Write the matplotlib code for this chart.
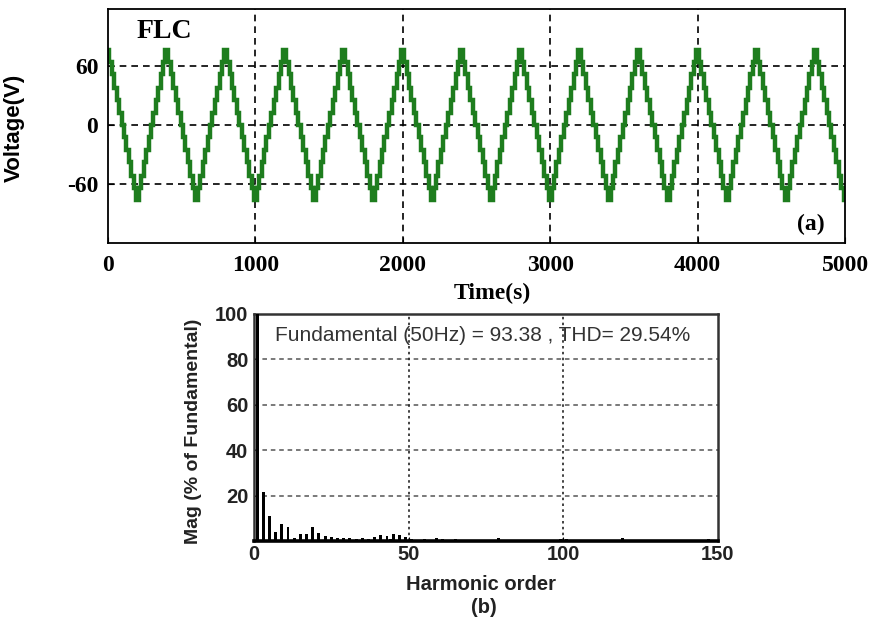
import numpy as np
import matplotlib
matplotlib.use("Agg")
import matplotlib.pyplot as plt

# ---------------- data ----------------
# (a) staircase output voltage of the FLC inverter: one period (400 units) of levels
period = 400
cycles = 13
step_start = [-10, 8, 25, 42, 58, 75, 92, 108, 125, 142, 158, 175, 190,
              210, 225, 242, 258, 275, 292, 308, 325, 342, 358, 375]
step_level = [76, 64, 52, 38, 25, 12, 0, -12, -25, -38, -52, -64, -76,
              -64, -52, -38, -25, -12, 0, 12, 25, 38, 52, 64]
top_xticks = [0, 1000, 2000, 3000, 4000, 5000]
top_yticks = [-60, 0, 60]

# (b) FFT spectrum, magnitude in % of fundamental
harm_order = [0, 1, 2, 3, 4, 5, 6, 7, 8, 9, 10, 11, 12, 13, 14, 15, 16, 17, 18, 19,
              20, 21, 22, 23, 24, 25, 27, 29, 31, 33, 35, 37, 39, 41, 42, 43, 44, 45,
              46, 47, 49, 51, 53, 55, 57, 59, 61, 63, 65, 67, 69, 71, 73, 75, 77, 79,
              81, 83, 85, 87, 89, 91, 93, 95, 97, 99, 101, 103, 105, 107, 109, 111,
              113, 115, 117, 119, 121, 123, 125, 127, 129, 131, 133, 135, 137, 139,
              141, 143, 145, 147, 149]
harm_mag = [0.4, 100, 0.3, 21.5, 0.3, 11.0, 0.3, 4.0, 0.3, 7.5, 0.3, 6.2, 0.3, 1.2, 0.3,
            3.0, 0.3, 3.2, 0.3, 6.0, 0.3, 3.7, 0.3, 2.0, 0.3, 1.8, 1.5, 1.3, 1.2, 0.8,
            1.4, 0.9, 1.8, 2.5, 0.6, 2.2, 0.8, 3.2, 0.6, 2.5, 1.8, 1.0, 0.6, 0.8, 0.6,
            1.5, 0.8, 0.5, 0.7, 0.5, 0.6, 0.5, 0.6, 0.5, 0.6, 1.5, 0.5, 0.4, 0.5, 0.4,
            0.5, 0.4, 0.5, 0.4, 0.6, 1.0, 0.8, 0.4, 0.5, 0.4, 0.5, 0.4, 0.5, 0.4, 0.6,
            1.2, 0.6, 0.4, 0.5, 0.4, 0.5, 0.4, 0.5, 0.4, 0.5, 0.4, 0.5, 0.4, 0.6, 0.9,
            0.6]
bot_xticks = [0, 50, 100, 150]
bot_yticks = [20, 40, 60, 80, 100]
spec_text = "Fundamental (50Hz) = 93.38 , THD= 29.54%"

# ---------------- figure ----------------
fig = plt.figure(figsize=(8.71, 6.23), dpi=100)
serif = "Liberation Serif"
sans = "Liberation Sans"

# ---- (a) ----
ax1 = fig.add_axes([0.1240, 0.6100, 0.8462, 0.3756])
t = (np.arange(cycles)[:, None] * period + np.array(step_start)[None, :]).ravel()
v = np.tile(step_level, cycles)
t = np.append(t, t[-1] + 20)
v = np.append(v, v[-1])
ax1.step(t, v, where="post", color="#1e7d1e", lw=3.2, solid_joinstyle="miter")
ax1.set_xlim(0, 5000)
ax1.set_ylim(-120, 118)
ax1.set_xticks(top_xticks)
ax1.set_yticks(top_yticks)
ax1.set_xticklabels([str(x) for x in top_xticks], fontfamily=serif,
                    fontweight="bold", fontsize=17)
ax1.set_yticklabels([str(y) for y in top_yticks], fontfamily=serif,
                    fontweight="bold", fontsize=17)
ax1.tick_params(axis="x", direction="in", length=4, pad=9)
ax1.tick_params(axis="y", direction="in", length=4, pad=7)
for xv in top_xticks[1:-1]:
    ax1.axvline(xv, color="black", lw=1.2, ls=(0, (4, 3)), zorder=1)
for yv in top_yticks:
    ax1.axhline(yv, color="black", lw=1.2, ls=(0, (4, 3)), zorder=1)
for s in ax1.spines.values():
    s.set_linewidth(1.3)
ax1.set_xlabel("Time(s)", fontfamily=serif, fontweight="bold", fontsize=17)
ax1.xaxis.set_label_coords(0.522, -0.17)
ax1.set_ylabel("Voltage(V)", fontfamily=sans, fontweight="bold", fontsize=16)
ax1.yaxis.set_label_coords(-0.113, 0.49)
ax1.text(0.039, 0.905, "FLC", transform=ax1.transAxes, fontfamily=serif,
         fontweight="bold", fontsize=20, va="center", ha="left")
ax1.text(0.953, 0.077, "(a)", transform=ax1.transAxes, fontfamily=serif,
         fontweight="bold", fontsize=17, va="center", ha="center")

# ---- (b) ----
ax2 = fig.add_axes([0.2916, 0.1316, 0.5327, 0.3644])
ax2.bar(harm_order, harm_mag, width=0.95, color="black", zorder=3)
ax2.set_xlim(0, 150)
ax2.set_ylim(0, 100)
ax2.set_xticks(bot_xticks)
ax2.set_yticks(bot_yticks)
ax2.set_xticklabels([str(x) for x in bot_xticks], fontfamily=sans,
                    fontweight="bold", fontsize=14.5, color="#222222")
ax2.set_yticklabels([str(y) for y in bot_yticks], fontfamily=sans,
                    fontweight="bold", fontsize=14.5, color="#222222")
ax2.tick_params(axis="both", direction="in", length=3)
ax2.tick_params(axis="x", pad=3)
ax2.tick_params(axis="y", pad=4)
for yv in bot_yticks[:-1]:
    ax2.axhline(yv, color="#555555", lw=1.1, ls=(0, (3, 2.5)), zorder=1)
for xv in bot_xticks[1:-1]:
    ax2.axvline(xv, color="#222222", lw=1.2, ls=(0, (1.5, 2)), zorder=1)
for s in ax2.spines.values():
    s.set_linewidth(1.8)
    s.set_color("#333333")
ax2.spines["bottom"].set_linewidth(2.6)
ax2.spines["bottom"].set_color("black")
ax2.set_xlabel("Harmonic order", fontfamily=sans, fontweight="bold", fontsize=14.5,
               color="#222222")
ax2.xaxis.set_label_coords(0.49, -0.15)
ax2.set_ylabel("Mag (% of Fundamental)", fontfamily=sans, fontweight="bold",
               fontsize=14, color="#222222")
ax2.yaxis.set_label_coords(-0.112, 0.485)
ax2.text(0.045, 0.905, spec_text, transform=ax2.transAxes, fontfamily=sans,
         fontsize=15, color="#333333", va="center", ha="left", zorder=4)
fig.text(0.555, 0.025, "(b)", fontfamily=sans, fontweight="bold", fontsize=14.5,
         color="#222222", ha="center", va="center")

fig.savefig("out.png", dpi=100)
